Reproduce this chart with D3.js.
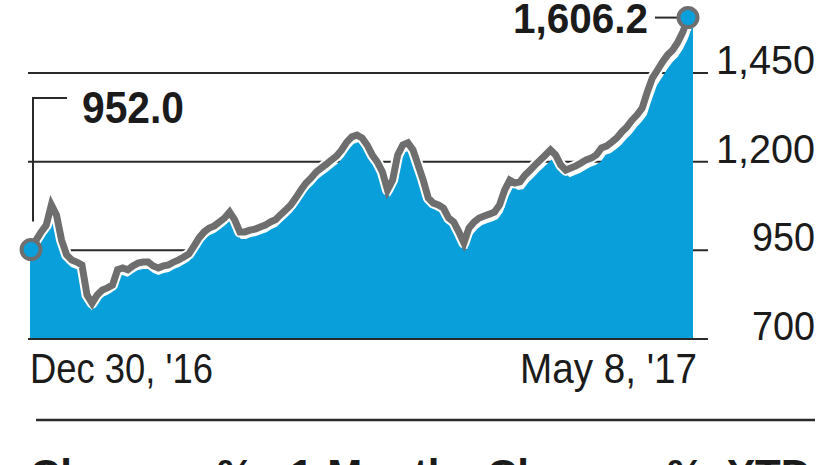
<!DOCTYPE html>
<html>
<head>
<meta charset="utf-8">
<script src="https://cdn.jsdelivr.net/npm/d3@7/dist/d3.min.js"></script>
<style>
  html, body { margin: 0; padding: 0; background: #fff; }
  svg { display: block; }
  text { font-family: "Liberation Sans", Arial, sans-serif; fill: #1b1b1b; }
</style>
</head>
<body>
<svg id="chart" width="826" height="465"></svg>
<script>
// ---- data ----
const startDate = "2016-12-30";
const endDate = "2017-05-08";
const values = [
  952.0, 979, 1002, 1021, 1078, 1050, 979, 937, 923, 917,
  909, 824, 801, 824, 838, 844, 852, 895, 900, 895,
  906, 914, 917, 917, 906, 900, 906, 909, 917, 923,
  931, 940, 962, 985, 1002, 1013, 1019, 1030, 1041, 1058,
  1036, 1002, 1002, 1007, 1010, 1016, 1021, 1030, 1036, 1050,
  1064, 1078, 1098, 1120, 1140, 1154, 1171, 1182, 1193, 1205,
  1216, 1233, 1255, 1270, 1275, 1267, 1247, 1219, 1199, 1171,
  1120, 1148, 1219, 1247, 1253, 1233, 1191, 1148, 1098, 1083,
  1078, 1069, 1041, 1030, 1002, 971, 1013, 1030, 1041, 1047,
  1052, 1058, 1078, 1120, 1148, 1140, 1143, 1162, 1176, 1191,
  1205, 1219, 1233, 1219, 1191, 1176, 1182, 1188, 1196, 1205,
  1210, 1219, 1239, 1244, 1255, 1267, 1284, 1298, 1317, 1332,
  1351, 1396, 1436, 1458, 1481, 1501, 1515, 1537, 1566, 1606.2
];
const yTicks = [700, 950, 1200, 1450];
const yTickLabels = ["700", "950", "1,200", "1,450"];
const xTickLabels = ["Dec 30, '16", "May 8, '17"];
const startLabel = "952.0";
const endLabel = "1,606.2";
const footerLeft = ["Change", "%,", "1-Month"];
const footerRight = ["Change", "%,", "YTD"];

// ---- build ----
const parse = d3.utcParse("%Y-%m-%d");
const t0 = parse(startDate), t1 = parse(endDate);
const dates = d3.utcDay.range(t0, d3.utcDay.offset(t1, 1));
const data = dates.map((d, i) => ({ date: d, value: values[i] }));

const svg = d3.select("#chart");
const blue = "#099fdb";
const lineGrey = "#6e6e6e";
const ink = "#2a2a2a";

const x = d3.scaleUtc().domain([t0, t1]).range([31, 688]);
const xArea = d3.scaleUtc().domain([t0, t1]).range([30, 693]);
const y = d3.scaleLinear().domain([700, 1450]).range([339, 73]);
const areaDrop = 7;

// gridlines (behind area)
svg.append("g").selectAll("line")
  .data(yTicks.filter(t => t !== 700))
  .join("line")
  .attr("x1", 28).attr("x2", 708)
  .attr("y1", d => y(d)).attr("y2", d => y(d))
  .attr("stroke", ink).attr("stroke-width", 2);

// area
const area = d3.area()
  .x(d => xArea(d.date))
  .y0(y(700))
  .y1(d => Math.min(y(d.value) + areaDrop, y(700)));
svg.append("path").datum(data)
  .attr("d", area)
  .attr("fill", blue);

// baseline axis
svg.append("line")
  .attr("x1", 28).attr("x2", 708)
  .attr("y1", y(700)).attr("y2", y(700))
  .attr("stroke", ink).attr("stroke-width", 2);

// line with white halo
const line = d3.line().x(d => x(d.date)).y(d => y(d.value));
svg.append("path").datum(data)
  .attr("d", line).attr("fill", "none")
  .attr("stroke", "#ffffff").attr("stroke-width", 11)
  .attr("stroke-linejoin", "round");
svg.append("path").datum(data)
  .attr("d", line).attr("fill", "none")
  .attr("stroke", lineGrey).attr("stroke-width", 7)
  .attr("stroke-linejoin", "miter");

// y tick labels
const yLabelWidths = { "700": 63, "950": 63, "1,200": 99, "1,450": 99 };
svg.append("g").selectAll("text")
  .data(yTicks)
  .join("text")
  .attr("x", (d, i) => 815 - yLabelWidths[yTickLabels[i]])
  .attr("y", d => y(d) + 1)
  .attr("font-size", 40)
  .attr("textLength", (d, i) => yLabelWidths[yTickLabels[i]])
  .attr("lengthAdjust", "spacingAndGlyphs")
  .text((d, i) => yTickLabels[i]);

// x tick labels
svg.append("text")
  .attr("x", 30).attr("y", 383)
  .attr("font-size", 42)
  .attr("textLength", 183).attr("lengthAdjust", "spacingAndGlyphs")
  .text(xTickLabels[0]);
svg.append("text")
  .attr("x", 520).attr("y", 383)
  .attr("font-size", 42)
  .attr("textLength", 177).attr("lengthAdjust", "spacingAndGlyphs")
  .text(xTickLabels[1]);

// start annotation
const first = data[0], last = data[data.length - 1];
svg.append("path")
  .attr("d", d3.line()([[33, y(first.value) - 28], [33, 98], [67, 98]]))
  .attr("fill", "none").attr("stroke", ink).attr("stroke-width", 2);
svg.append("text")
  .attr("x", 82).attr("y", 123)
  .attr("font-size", 44).attr("font-weight", "bold")
  .attr("textLength", 102).attr("lengthAdjust", "spacingAndGlyphs")
  .text(startLabel);

// end annotation
svg.append("line")
  .attr("x1", 655).attr("x2", x(last.date) - 10)
  .attr("y1", y(last.value)).attr("y2", y(last.value))
  .attr("stroke", ink).attr("stroke-width", 2);
svg.append("text")
  .attr("x", 513).attr("y", 33)
  .attr("font-size", 43).attr("font-weight", "bold")
  .attr("textLength", 135).attr("lengthAdjust", "spacingAndGlyphs")
  .text(endLabel);

// end-point dots
svg.append("g").selectAll("circle")
  .data([first, last])
  .join("circle")
  .attr("cx", d => x(d.date)).attr("cy", d => y(d.value))
  .attr("r", 9.5)
  .attr("fill", blue).attr("stroke", lineGrey).attr("stroke-width", 4);

// separator
svg.append("line")
  .attr("x1", 36).attr("x2", 815).attr("y1", 420).attr("y2", 420)
  .attr("stroke", ink).attr("stroke-width", 2.5);

// footer (cut off at bottom edge)
const footerXs = [[30, 217, 290], [487, 667, 727]];
[footerLeft, footerRight].forEach((words, g) => {
  svg.append("g").selectAll("text")
    .data(words)
    .join("text")
    .attr("x", (d, i) => footerXs[g][i])
    .attr("y", 489)
    .attr("font-size", 42).attr("font-weight", "bold")
    .text(d => d);
});
</script>
</body>
</html>
